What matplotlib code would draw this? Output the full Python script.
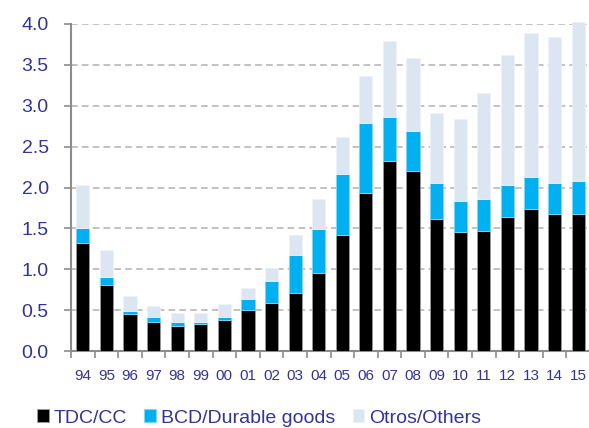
import matplotlib
matplotlib.use("Agg")
import matplotlib.pyplot as plt
import numpy as np

years = ["94","95","96","97","98","99","00","01","02","03","04","05","06","07","08","09","10","11","12","13","14","15"]
tdc = [1.32,0.81,0.45,0.35,0.30,0.33,0.38,0.50,0.59,0.71,0.955,1.42,1.93,2.33,2.20,1.62,1.45,1.47,1.64,1.74,1.67,1.67]
bcd_cum = [1.51,0.91,0.49,0.42,0.35,0.35,0.42,0.64,0.86,1.18,1.49,2.16,2.79,2.86,2.69,2.06,1.84,1.86,2.03,2.13,2.06,2.08]
total = [2.03,1.23,0.67,0.55,0.47,0.47,0.57,0.77,1.01,1.42,1.86,2.62,3.37,3.79,3.59,2.91,2.84,3.16,3.62,3.89,3.84,4.02]

bcd = [b - t for b, t in zip(bcd_cum, tdc)]
otros = [o - b for o, b in zip(total, bcd_cum)]

plt.rcParams['font.family'] = ['Liberation Sans', 'DejaVu Sans']
txt = '#333399'

fig = plt.figure(figsize=(5.89, 4.28), dpi=100)
ax = fig.add_axes([71/589, 1-351/428, 519/589, 327/428])

x = np.arange(len(years))
w = 0.56
ax.bar(x, tdc, w, color='#000000', edgecolor='#9a9a9a', linewidth=0.6, zorder=3, label='TDC/CC')
ax.bar(x, bcd, w, bottom=tdc, color='#00b0f0', edgecolor='#7fd6f7', linewidth=0.6, zorder=3, label='BCD/Durable goods')
ax.bar(x, otros, w, bottom=bcd_cum, color='#dce6f2', edgecolor='#eef3f9', linewidth=0.6, zorder=3, label='Otros/Others', clip_on=False)

ax.set_xlim(-0.5, len(years) - 0.5)
ax.set_ylim(0, 4.0)
ax.set_yticks(np.arange(0, 4.01, 0.5))
ax.set_yticklabels([f"{v:.1f}" for v in np.arange(0, 4.01, 0.5)])
ax.yaxis.grid(True, linestyle=(0, (4, 2.5)), color='#b8b8b8', linewidth=1.2, zorder=0)
ax.set_axisbelow(True)

ax.set_xticks(x)
ax.set_xticklabels(years)
ax.set_xticks(np.arange(-0.5, len(years), 1), minor=True)
ax.tick_params(axis='x', which='major', length=0, pad=13, labelsize=11, labelcolor=txt)
ax.tick_params(axis='x', which='minor', length=5, width=1.2, color='#8c8c8c', direction='out')
ax.tick_params(axis='y', length=5, width=1.2, color='#8c8c8c', direction='out', pad=11, labelsize=14, labelcolor=txt)

for s in ['top', 'right']:
    ax.spines[s].set_visible(False)
for s in ['left', 'bottom']:
    ax.spines[s].set_color('#8c8c8c')
    ax.spines[s].set_linewidth(1.5)

leg = fig.legend(loc='center', bbox_to_anchor=(0.44, 1 - 418/428), ncol=3, frameon=False,
                 fontsize=14, handlelength=0.6, handleheight=0.6, handletextpad=0.25,
                 columnspacing=0.9, borderpad=0)
for t in leg.get_texts():
    t.set_color(txt)

fig.savefig("out.png", dpi=100)
